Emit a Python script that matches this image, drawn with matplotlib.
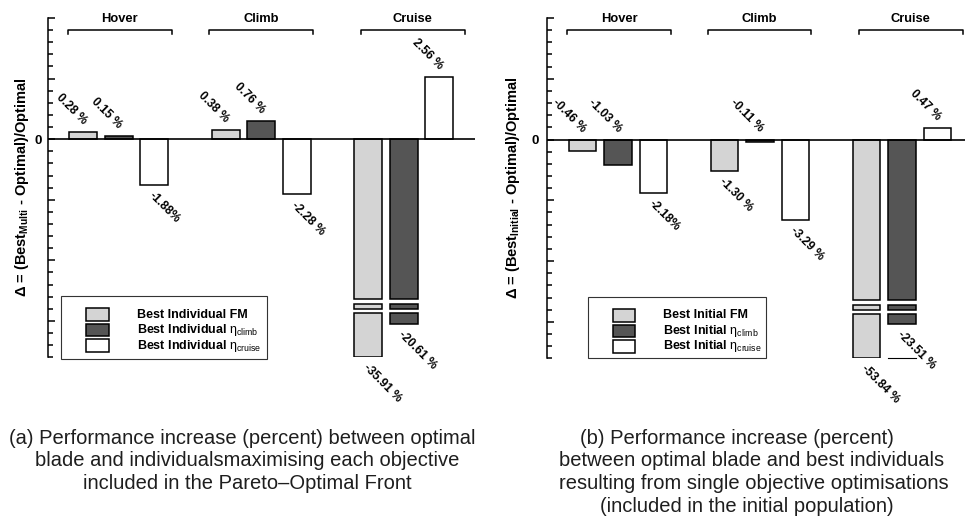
import numpy as np
import matplotlib
matplotlib.use("Agg")
import matplotlib.pyplot as plt
from matplotlib.patches import Rectangle
from matplotlib.transforms import blended_transform_factory

plt.rcParams['font.family'] = ['Liberation Sans', 'DejaVu Sans']
plt.rcParams['mathtext.fontset'] = 'custom'
plt.rcParams['mathtext.rm'] = 'Liberation Sans'
plt.rcParams['mathtext.it'] = 'Liberation Sans'
plt.rcParams['mathtext.bf'] = 'Liberation Sans:bold'

# ---------------------------------------------------------------- data
phases = ['Hover', 'Climb', 'Cruise']

# (a) best multi-objective individuals vs optimal blade, percent
multi_fm = [0.28, 0.38, -35.91]
multi_climb = [0.15, 0.76, -20.61]
multi_cruise = [-1.88, -2.28, 2.56]
multi_fm_labels = ['0.28 %', '0.38 %', '-35.91 %']
multi_climb_labels = ['0.15 %', '0.76 %', '-20.61 %']
multi_cruise_labels = ['-1.88%', '-2.28 %', '2.56 %']

# (b) best single-objective initial individuals vs optimal blade, percent
initial_fm = [-0.46, -1.30, -53.84]
initial_climb = [-1.03, -0.11, -23.51]
initial_cruise = [-2.18, -3.29, 0.47]
initial_fm_labels = ['-0.46 %', '-1.30 %', '-53.84 %']
initial_climb_labels = ['-1.03 %', '-0.11 %', '-23.51 %']
initial_cruise_labels = ['-2.18%', '-3.29 %', '0.47 %']

legend_a = ['Best Individual FM',
            r'Best Individual $\eta_{\rm climb}$',
            r'Best Individual $\eta_{\rm cruise}$']
legend_b = ['Best Initial FM',
            r'Best Initial $\eta_{\rm climb}$',
            r'Best Initial $\eta_{\rm cruise}$']

ylabel_a = r'Δ = (Best$_{\mathbf{Multi}}$ - Optimal)/Optimal'
ylabel_b = r'Δ = (Best$_{\mathbf{Initial}}$ - Optimal)/Optimal'

caption_a = ['(a) Performance increase (percent) between optimal',
             'blade and individualsmaximising each objective',
             'included in the Pareto\u2013Optimal Front']
caption_b = ['(b) Performance increase (percent)',
             'between optimal blade and best individuals',
             'resulting from single objective optimisations',
             '(included in the initial population)']

# ---------------------------------------------------------------- style
FILLS = ['#d4d4d4', '#555555', '#ffffff']
W, H = 965, 521
BAR_W = 0.195
OFFSET = 0.25
BRACKETS = [(-0.357, 0.371), (0.634, 1.362), (1.697, 2.428)]

fig = plt.figure(figsize=(W / 100, H / 100), dpi=100)


def px_axes(x0, x1, y0, y1):
    ax = fig.add_axes([x0 / W, 1 - y1 / H, (x1 - x0) / W, (y1 - y0) / H])
    ax._px = (x0, x1, y0, y1)
    return ax


def fig_xy(x, y):
    return x / W, 1 - y / H


def broken_scale(top_end, low_start, v_low, k):
    """Linear axis above top_end, compressed range below the break."""
    def fwd(v):
        v = np.asarray(v, dtype=float)
        mid = low_start + (v - v_low) * (top_end - low_start) / (top_end - v_low)
        low = low_start + (v - v_low) * k
        return np.where(v >= top_end, v, np.where(v >= v_low, mid, low))

    def inv(d):
        d = np.asarray(d, dtype=float)
        mid = v_low + (d - low_start) * (top_end - v_low) / (top_end - low_start)
        low = v_low + (d - low_start) / k
        return np.where(d >= top_end, d, np.where(d >= low_start, mid, low))
    return fwd, inv


def panel(ax, series, labels, xmax, scale, legend_labels, legend_px,
          tick_pad, stub=False):
    top_end, low_start, v_low, k = scale
    fwd, inv = broken_scale(*scale)
    ax.set_yscale('function', functions=(fwd, inv))
    ax.set_xlim(-0.5, xmax)
    ax.set_ylim(float(inv(-9.0)), float(inv(5.0)))

    major = np.array([5, 2.5, 0, -2.5, -5, -7.5])
    ax.set_yticks(inv(major))
    ax.set_yticklabels(['0' if m == 0 else '' for m in major],
                       fontweight='bold', fontsize=9.5)
    ax.set_yticks(inv(np.arange(-9, 5.01, 0.5)), minor=True)
    ax.tick_params(axis='y', which='major', direction='in', length=5,
                   width=1.1, pad=tick_pad)
    ax.tick_params(axis='y', which='minor', direction='in', length=3.4,
                   width=1.1)
    ax.set_xticks([])
    for side in ('top', 'right', 'bottom'):
        ax.spines[side].set_visible(False)
    ax.spines['left'].set_linewidth(1.1)
    ax.axhline(0, color='black', lw=1.2, zorder=4)

    strip_hi, strip_lo = float(inv(-6.8)), float(inv(-7.0))
    kw = dict(width=BAR_W, edgecolor='black', linewidth=1.1, zorder=3)
    for s, (vals, labs) in enumerate(zip(series, labels)):
        for g, (v, lab) in enumerate(zip(vals, labs)):
            x = g + (s - 1) * OFFSET
            if v < top_end:
                ax.bar(x, top_end, color=FILLS[s], **kw)
                ax.bar(x, strip_hi - strip_lo, bottom=strip_lo,
                       color=FILLS[s], **kw)
                ax.bar(x, v - v_low, bottom=v_low, color=FILLS[s], **kw)
            else:
                ax.bar(x, v, color=FILLS[s], **kw)
            if v > -1.2:
                ax.annotate(lab, (x, max(v, 0)), xytext=(-2, 3.6),
                            textcoords='offset points', rotation=-45,
                            rotation_mode='anchor', ha='right', va='bottom',
                            fontsize=8.7, fontweight='bold')
            else:
                ax.annotate(lab, (x, v), xytext=(0.7, -3.4),
                            textcoords='offset points', rotation=-45,
                            rotation_mode='anchor', ha='left', va='top',
                            fontsize=8.7, fontweight='bold')
            if stub and s == 1 and v < top_end:
                ax.plot([x - BAR_W / 2, x + BAR_W / 2], [v_low + (-9.0 - low_start) / k] * 2,
                        color='black', lw=0.8, clip_on=False, zorder=3)

    # phase brackets
    x0, x1, y0, y1 = ax._px
    def yf(ypx):
        return (y1 - ypx) / (y1 - y0)
    tr = blended_transform_factory(ax.transData, ax.transAxes)
    for (a, b), name in zip(BRACKETS, phases):
        ax.plot([a, a, b, b], [yf(33.5), yf(30), yf(30), yf(33.5)],
                color='black', lw=1.1, transform=tr, clip_on=False)
        ax.text((a + b) / 2, yf(19), name, transform=tr, ha='center',
                va='center', fontsize=9.3, fontweight='bold')

    # legend box
    bx0, bx1, by0, by1, px0, px1, tx = legend_px
    fx, fy = fig_xy(bx0, by1)
    fig.patches.append(Rectangle((fx, fy), (bx1 - bx0) / W, (by1 - by0) / H,
                                 transform=fig.transFigure, fill=False,
                                 edgecolor='#333333', lw=0.8, zorder=5))
    for i, lab in enumerate(legend_labels):
        top = by0 + 12.6 + i * 15.5
        fx, fy = fig_xy(px0, top + 12.4)
        fig.patches.append(Rectangle((fx, fy), (px1 - px0) / W, 12.4 / H,
                                     transform=fig.transFigure,
                                     facecolor=FILLS[i], edgecolor='black',
                                     lw=1.1, zorder=5))
        tx_f, ty_f = fig_xy(tx, top + 6.2)
        fig.text(tx_f, ty_f, lab, ha='left', va='center', fontsize=9,
                 fontweight='bold')


ax_a = px_axes(47.5, 475, 18, 357.3)
ax_b = px_axes(547, 965, 18, 358.3)

panel(ax_a, [multi_fm, multi_climb, multi_cruise],
      [multi_fm_labels, multi_climb_labels, multi_cruise_labels],
      2.5, (-6.6, -7.18, -15.58, 0.0895), legend_a,
      (60.7, 266.7, 295.7, 359, 86.3, 109, 137.3), tick_pad=4.0)
panel(ax_b, [initial_fm, initial_climb, initial_cruise],
      [initial_fm_labels, initial_climb_labels, initial_cruise_labels],
      2.444, (-6.6, -7.18, -14.69, 0.0465), legend_b,
      (588.3, 766, 296.7, 357.7, 612.7, 635.3, 663.3), tick_pad=5.8,
      stub=True)

# axis titles
for (x, y), lab in [((22.5, 187.5), ylabel_a), ((512.5, 188), ylabel_b)]:
    fx, fy = fig_xy(x, y)
    fig.text(fx, fy, lab, rotation=90, ha='center', va='center',
             fontsize=10.5, fontweight='bold')

# captions
for lines, centers in [(caption_a, [242, 246.7, 247]),
                       (caption_b, [736.7, 751.7, 753.8, 747])]:
    for i, (line, cx) in enumerate(zip(lines, centers)):
        fx, fy = fig_xy(cx, 438 + i * 22.9)
        fig.text(fx, fy, line, ha='center', va='center', fontsize=14.5,
                 color='#1e1e1e')

fig.savefig('out.png', dpi=100)
